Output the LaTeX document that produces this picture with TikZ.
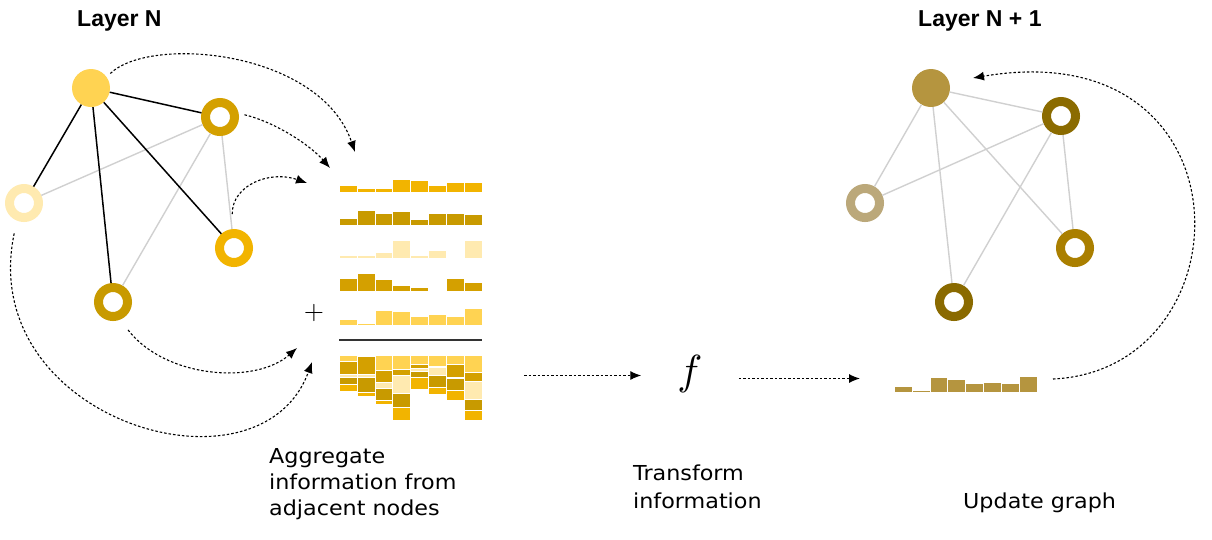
\documentclass[tikz,border=0pt]{standalone}
\usepackage{fontspec}
\usepackage{tikz}
\usetikzlibrary{arrows.meta}
\newfontfamily\labelfont{DejaVu Sans}[FakeStretch=1.08]
\newfontfamily\titlefont{Liberation Sans}
\definecolor{goldLight}{HTML}{FFD352}
\definecolor{goldMid}{HTML}{D4A000}
\definecolor{goldPale}{HTML}{FFEAB0}
\definecolor{goldOrange}{HTML}{F2B400}
\definecolor{goldDark}{HTML}{C89A00}
\definecolor{newTop}{HTML}{B5953F}
\definecolor{newMid}{HTML}{8B6B00}
\definecolor{newPale}{HTML}{BBA87A}
\definecolor{newOrange}{HTML}{AA7F00}
\definecolor{newDark}{HTML}{8A6A00}
\definecolor{edgeGray}{HTML}{D0D0D0}
\definecolor{ruleGray}{HTML}{333333}
\begin{document}
\begin{tikzpicture}[x=1pt,y=-1pt,%%
  edgeStyle/.style={line width=1.5pt,draw=black},%%
  softEdgeStyle/.style={line width=1.4pt,draw=edgeGray},%%
  fullStyle/.style={circle,inner sep=0pt,minimum size=38pt},%%
  ringStyle/.style={circle,inner sep=0pt,minimum size=29pt,line width=9pt,fill=white},%%
  flowStyle/.style={-{Latex[length=11pt,width=9pt]},line width=1.1pt,dash pattern=on 2.5pt off 2pt},%%
  barStyle/.style={draw=white,line width=0.5pt},%%
  titleStyle/.style={font=\titlefont\bfseries\fontsize{23}{28}\selectfont,anchor=base west,inner sep=0pt},%%
  labelStyle/.style={font=\labelfont\fontsize{20.6}{26}\selectfont,align=left,anchor=base west,inner sep=0pt}%%
]
%%
\useasboundingbox (0,0) rectangle (1212,539);
%%
\pgfmathsetmacro{\xlow}{339}
\pgfmathsetmacro{\bw}{17.875}
\pgfmathsetmacro{\ytop}{355}
\pgfmathsetmacro{\xnew}{894}
\def\rowA{{7,4,4,13,12,7,10,10}}
\def\rowB{{7,15,12,14,6,12,12,11}}
\def\rowC{{3,3,6,18,3,8,1.5,18}}
\def\rowD{{13,18,12,6,4,1.5,13,9}}
\def\rowE{{6,1.5,15,14,9,11,9,17}}
\def\rowNew{{6,1.5,15,13,9,10,9,16}}
%%
%% Titles.
\node[titleStyle] (titleOld) at (77,26) {Layer N};
\node[titleStyle] (titleNew) at (918,26) {Layer N + 1};
%%
%% Graph of layer N.
\node[fullStyle,fill=goldLight] (nTop) at (91,88) {};
\node[ringStyle,draw=goldMid] (nB) at (220,117) {};
\node[ringStyle,draw=goldPale] (nC) at (24,203) {};
\node[ringStyle,draw=goldOrange] (nD) at (234,248) {};
\node[ringStyle,draw=goldDark] (nE) at (113,302) {};
\draw[softEdgeStyle] (nC) -- (nB);
\draw[softEdgeStyle] (nB) -- (nE);
\draw[softEdgeStyle] (nB) -- (nD);
\draw[edgeStyle] (nTop) -- (nB);
\draw[edgeStyle] (nTop) -- (nC);
\draw[edgeStyle] (nTop) -- (nD);
\draw[edgeStyle] (nTop) -- (nE);
%%
%% Graph of layer N + 1.
\node[fullStyle,fill=newTop] (mTop) at (931,88) {};
\node[ringStyle,draw=newMid] (mB) at (1061,116) {};
\node[ringStyle,draw=newPale] (mC) at (865,203) {};
\node[ringStyle,draw=newOrange] (mD) at (1075,248) {};
\node[ringStyle,draw=newDark] (mE) at (954,302) {};
\foreach \a/\b in {mTop/mB,mTop/mC,mTop/mD,mTop/mE,mC/mB,mB/mE,mB/mD}
  \draw[softEdgeStyle] (\a) -- (\b);
%%
%% Messages and their sum.
\foreach \i in {0,...,7}{
  \pgfmathsetmacro{\xl}{\xlow+\i*\bw}
  \pgfmathsetmacro{\ha}{\rowA[\i]}
  \pgfmathsetmacro{\hb}{\rowB[\i]}
  \pgfmathsetmacro{\hc}{\rowC[\i]}
  \pgfmathsetmacro{\hd}{\rowD[\i]}
  \pgfmathsetmacro{\he}{\rowE[\i]}
  \draw[barStyle,fill=goldOrange] (\xl,192) rectangle ++(\bw,-\ha);
  \draw[barStyle,fill=goldDark] (\xl,225.5) rectangle ++(\bw,-\hb);
  \draw[barStyle,fill=goldPale] (\xl,258.5) rectangle ++(\bw,-\hc);
  \draw[barStyle,fill=goldMid] (\xl,291.5) rectangle ++(\bw,-\hd);
  \draw[barStyle,fill=goldLight] (\xl,325) rectangle ++(\bw,-\he);
  %% stacked column
  \pgfmathsetmacro{\ye}{\ytop+\he}
  \pgfmathsetmacro{\yd}{\ye+\hd}
  \pgfmathsetmacro{\yc}{\yd+\hc}
  \pgfmathsetmacro{\yb}{\yc+\hb}
  \pgfmathsetmacro{\ya}{\yb+\ha}
  \draw[barStyle,fill=goldLight] (\xl,\ytop) rectangle (\xl+\bw,\ye);
  \draw[barStyle,fill=goldMid] (\xl,\ye) rectangle (\xl+\bw,\yd);
  \draw[barStyle,fill=goldPale] (\xl,\yd) rectangle (\xl+\bw,\yc);
  \draw[barStyle,fill=goldDark] (\xl,\yc) rectangle (\xl+\bw,\yb);
  \draw[barStyle,fill=goldOrange] (\xl,\yb) rectangle (\xl+\bw,\ya);
  %% updated feature
  \pgfmathsetmacro{\xn}{\xnew+\i*\bw}
  \pgfmathsetmacro{\hn}{\rowNew[\i]}
  \draw[barStyle,fill=newTop] (\xn,392) rectangle ++(\bw,-\hn);
}
\draw[line width=1.6pt,draw=ruleGray] (\xlow,340) -- (\xlow+8*\bw,340);
\node[inner sep=0pt] (plus) at (314,313) {\scalebox{2.6}{$+$}};
%%
%% Arrow end points.
\coordinate (aggIn1) at (355,152);
\coordinate (aggIn2) at (330,168);
\coordinate (aggIn3) at (307,183);
\coordinate (aggIn4) at (297,348);
\coordinate (aggIn5) at (312,362);
\coordinate (aggOut) at (524,375.5);
\coordinate (newIn) at (860,378.5);
\coordinate (newOut) at (1053,379);
%%
%% Send the messages.
\draw[flowStyle,shorten <=5pt] (nTop.35) .. controls (150,35) and (320,50) .. (aggIn1);
\draw[flowStyle,shorten <=6pt] (nB.11) .. controls (275,122) and (310,145) .. (aggIn2);
\draw[flowStyle,shorten <=15pt] (nD.95) .. controls (232,185) and (270,170) .. (aggIn3);
\draw[flowStyle,shorten <=13pt] (nE.-68) .. controls (165,378) and (255,385) .. (aggIn4);
\draw[flowStyle,shorten <=13pt] (nC.-112) .. controls (-25,420) and (260,505) .. (aggIn5);
%%
%% Transform and update.
\node[inner sep=0pt,inner xsep=36pt] (f) at (690,373.5) {\scalebox{4.2}{$f$}};
\draw[flowStyle] (aggOut) -- (aggOut -| f.west);
\draw[flowStyle] (newIn -| f.east) -- (newIn);
\draw[flowStyle] (newOut) .. controls (1250,370) and (1255,30) .. (973,78);
%%
%% Captions.
\node[labelStyle] (capAgg) at (269,515) {Aggregate\\information from\\adjacent nodes};
\node[labelStyle,font=\labelfont\fontsize{20.6}{28}\selectfont] (capTrans) at (633,508) {Transform\\information};
\node[labelStyle] (capUpd) at (963,508) {Update graph};
\end{tikzpicture}
\end{document}
